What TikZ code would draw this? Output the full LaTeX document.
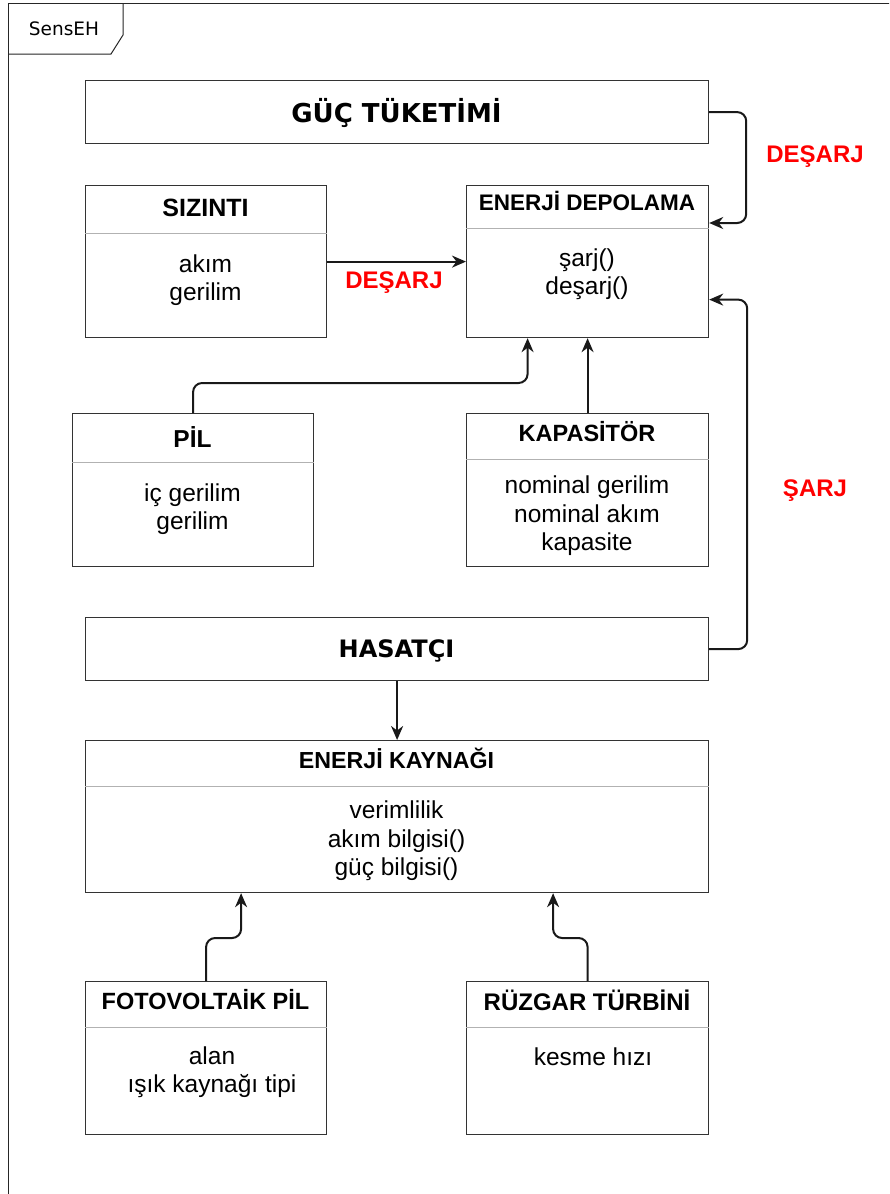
\documentclass[tikz,border=0pt]{standalone}
\usepackage{fontspec}
\setmainfont{Liberation Sans}
\newfontfamily\verd{DejaVu Sans}
\usetikzlibrary{arrows.meta}

\tikzset{
  umlbox/.style={draw=black!80, line width=1.2pt, fill=white, inner sep=0pt, anchor=north west},
  sepline/.style={draw=black!30, line width=1pt},
  hdr/.style={font=\bfseries\fontsize{#1}{#1}\selectfont, inner sep=0pt},
  hdr/.default=24,
  body/.style={font=\fontsize{24.5}{28.5}\selectfont, align=center, inner sep=0pt},
  vhdr/.style={font=\verd\bfseries\fontsize{#1}{#1}\selectfont, inner sep=0pt},
  conn/.style={draw=black!90, line width=2pt, rounded corners=9pt,
    -{Stealth[length=14pt, width=12pt, inset=4.5pt]}},
  flowlbl/.style={text=red, font=\bfseries\fontsize{24}{24}\selectfont, inner sep=0pt},
  frameline/.style={draw=black!85, line width=1pt}
}

\begin{document}
\begin{tikzpicture}[x=1pt, y=-1pt]
\useasboundingbox (0,0) rectangle (889,1194);
\clip (0,0) rectangle (889,1194);
\fill[white] (0,0) rectangle (889,1194);

% package frame with its name tab
\draw[frameline] (8,1260) -- (8,3) -- (960,3);
\draw[frameline] (8,54) -- (111,54) -- (123,35) -- (123,3);
\node[font=\verd\fontsize{18.5}{18.5}\selectfont, inner sep=0pt] (pkg) at (64,29) {SensEH};

% boxes
\node[umlbox, minimum width=623pt, minimum height=63pt] (guc) at (85,80) {};
\node[umlbox, minimum width=241pt, minimum height=152pt] (siz) at (85,185) {};
\node[umlbox, minimum width=242pt, minimum height=152pt] (depo) at (466,185) {};
\node[umlbox, minimum width=241pt, minimum height=153pt] (pil) at (72,413) {};
\node[umlbox, minimum width=242pt, minimum height=153pt] (kap) at (466,413) {};
\node[umlbox, minimum width=623pt, minimum height=63pt] (has) at (85,617) {};
\node[umlbox, minimum width=623pt, minimum height=152pt] (kay) at (85,740) {};
\node[umlbox, minimum width=241pt, minimum height=153pt] (foto) at (85,981) {};
\node[umlbox, minimum width=242pt, minimum height=153pt] (ruz) at (466,981) {};

% compartment separators
\draw[sepline] ([yshift=-48pt]siz.north west) -- ([yshift=-48pt]siz.north east);
\draw[sepline] ([yshift=-43pt]depo.north west) -- ([yshift=-43pt]depo.north east);
\draw[sepline] ([yshift=-49pt]pil.north west) -- ([yshift=-49pt]pil.north east);
\draw[sepline] ([yshift=-46pt]kap.north west) -- ([yshift=-46pt]kap.north east);
\draw[sepline] ([yshift=-46pt]kay.north west) -- ([yshift=-46pt]kay.north east);
\draw[sepline] ([yshift=-46pt]foto.north west) -- ([yshift=-46pt]foto.north east);
\draw[sepline] ([yshift=-46pt]ruz.north west) -- ([yshift=-46pt]ruz.north east);

% titles
\node[vhdr=26] (gucT) at (396.5,113) {GÜÇ TÜKETİMİ};
\node[vhdr=24] (hasT) at (396.5,651) {HASATÇI};
\node[hdr=25] (sizT) at (205.5,208) {SIZINTI};
\node[hdr=22.5] (depoT) at (587,201) {ENERJİ DEPOLAMA};
\node[hdr=24.5] (pilT) at (192.5,437) {PİL};
\node[hdr=23.5] (kapT) at (587,432) {KAPASİTÖR};
\node[hdr=23.2] (kayT) at (396.5,758) {ENERJİ KAYNAĞI};
\node[hdr=23.5] (fotoT) at (205.5,1000) {FOTOVOLTAİK PİL};
\node[hdr=24] (ruzT) at (587,1000) {RÜZGAR TÜRBİNİ};

% members
\node[body] (sizB) at (205.5,280) {akım\\gerilim};
\node[body] (depoB) at (587,274) {şarj()\\deşarj()};
\node[body] (pilB) at (192.5,509) {iç gerilim\\gerilim};
\node[body] (kapB) at (587,516) {nominal gerilim\\nominal akım\\kapasite};
\node[body] (kayB) at (396.5,841) {verimlilik\\akım bilgisi()\\güç bilgisi()};
\node[body] (fotoB) at (212,1072) {alan\\ışık kaynağı tipi};
\node[body] (ruzB) at (593,1057) {kesme hızı};

% connectors
\draw[conn] (guc.east) -- ++(37,0) |- ([yshift=-38pt]depo.north east);
\draw[conn] (siz.east) -- (depo.west);
\draw[conn] (pil.north) -- ++(0,-30) -| ([xshift=-60pt]depo.south);
\draw[conn] (kap.north) -- (depo.south);
\draw[conn] (has.east) -- ++(38,0) |- ([yshift=-38pt]depo.east);
\draw[conn] (has.south) -- (kay.north);
\draw[conn] (foto.north) -- ++(0,-43) -| ([xshift=-156pt]kay.south);
\draw[conn] (ruz.north) -- ++(0,-43) -| ([xshift=156pt]kay.south);

% flow labels
\node[flowlbl] (desarj1) at (815,157) {DEŞARJ};
\node[flowlbl] (desarj2) at (394,283) {DEŞARJ};
\node[flowlbl] (sarj) at (815,491) {ŞARJ};
\end{tikzpicture}
\end{document}
